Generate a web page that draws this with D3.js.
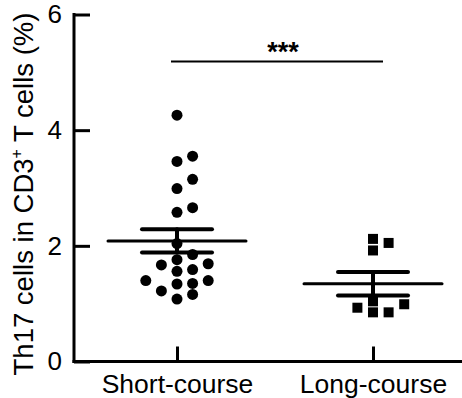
<!DOCTYPE html>
<html>
<head>
<meta charset="utf-8">
<script src="https://cdn.jsdelivr.net/npm/d3@7"></script>
<style>
  body { margin: 0; background: #fff; }
  svg { display: block; font-family: Arial, "Liberation Sans", sans-serif; }
</style>
</head>
<body>
<svg id="chart" width="462" height="398"></svg>
<script>
// data
const groups = ['Short-course', 'Long-course'];
const shortCourse = [4.26, 3.55, 3.46, 3.15, 2.99, 2.66, 2.58, 2.04, 1.85, 1.76, 1.69,
  1.67, 1.59, 1.56, 1.40, 1.40, 1.35, 1.34, 1.22, 1.16, 1.08];
const longCourse = [2.12, 2.05, 1.92, 1.04, 0.99, 0.93, 0.85, 0.85];
const yTicks = [0, 2, 4, 6];
const yLabel = 'Th17 cells in CD3';
const sigLabel = '***';

const width = 462, height = 398;
const margin = { top: 14.5, left: 74, bottom: 36.5 };

const svg = d3.select('#chart');

const x = d3.scalePoint()
  .domain(groups)
  .range([177, 373]);

const y = d3.scaleLinear()
  .domain([0, 6])
  .range([height - margin.bottom, margin.top]);

// axes
const yAxis = svg.append('g')
  .attr('transform', 'translate(' + margin.left + ',0)')
  .call(d3.axisRight(y).tickValues(yTicks).tickSize(16).tickFormat(d3.format('d')));
yAxis.select('.domain').remove();
yAxis.selectAll('.tick line').attr('stroke', '#000').attr('stroke-width', 3);
yAxis.selectAll('.tick text')
  .attr('x', -12)
  .attr('text-anchor', 'end')
  .attr('font-size', 26)
  .attr('fill', '#000');

svg.append('line')
  .attr('x1', margin.left).attr('x2', margin.left)
  .attr('y1', y(6) - 1.5).attr('y2', y(0) + 1.5)
  .attr('stroke', '#000').attr('stroke-width', 3);

const xAxis = svg.append('g')
  .attr('transform', 'translate(0,' + y(0) + ')')
  .call(d3.axisTop(x).tickSize(15));
xAxis.select('.domain').remove();
xAxis.selectAll('.tick line').attr('stroke', '#000').attr('stroke-width', 3);
xAxis.selectAll('.tick text')
  .attr('y', 31)
  .attr('font-size', 26.5)
  .attr('fill', '#000');

svg.append('line')
  .attr('x1', margin.left - 1.5).attr('x2', width)
  .attr('y1', y(0)).attr('y2', y(0))
  .attr('stroke', '#000').attr('stroke-width', 3);

// y label
const lab = svg.append('text')
  .attr('transform', 'translate(33,' + (y(3) + 6) + ') rotate(-90)')
  .attr('text-anchor', 'middle')
  .attr('font-size', 27.5)
  .attr('fill', '#000');
lab.append('tspan').text(yLabel);
lab.append('tspan').text('+').attr('font-size', 16).attr('dy', -11);
lab.append('tspan').text(' T cells (%)').attr('dy', 11);

// simple swarm: columns on a fixed step, avoid vertical overlap in a column
function swarm(values, step, minGap) {
  const sorted = values.slice().sort((a, b) => a - b);
  const lastY = {};
  const order = [0, 1, -1, 2, -2, 3, -3];
  return sorted.map(v => {
    const py = y(v);
    let col = order.find(c => lastY[c] === undefined || Math.abs(lastY[c] - py) >= minGap);
    lastY[col] = py;
    return { value: v, dx: col * step };
  });
}

function meanBars(values, cx) {
  const m = d3.mean(values);
  const sem = d3.deviation(values) / Math.sqrt(values.length);
  const g = svg.append('g')
    .attr('stroke', '#000')
    .attr('stroke-linecap', 'round');
  g.append('line')
    .attr('x1', cx - 69).attr('x2', cx + 69)
    .attr('y1', y(m)).attr('y2', y(m))
    .attr('stroke-width', 3);
  g.append('line')
    .attr('x1', cx).attr('x2', cx)
    .attr('y1', y(m + sem)).attr('y2', y(m - sem))
    .attr('stroke-width', 4);
  [m + sem, m - sem].forEach(v => {
    g.append('line')
      .attr('x1', cx - 35).attr('x2', cx + 35)
      .attr('y1', y(v)).attr('y2', y(v))
      .attr('stroke-width', 4);
  });
}

// Short-course dots
svg.selectAll('circle.short')
  .data(swarm(shortCourse, 15.6, 10.5))
  .enter()
  .append('circle')
  .attr('class', 'short')
  .attr('cx', d => x('Short-course') + d.dx)
  .attr('cy', d => y(d.value))
  .attr('r', 5.5)
  .attr('fill', '#000');

// Long-course squares
svg.selectAll('rect.long')
  .data(swarm(longCourse, 15.6, 10.5))
  .enter()
  .append('rect')
  .attr('class', 'long')
  .attr('x', d => x('Long-course') + d.dx - 5)
  .attr('y', d => y(d.value) - 5)
  .attr('width', 10)
  .attr('height', 10)
  .attr('fill', '#000');

meanBars(shortCourse, x('Short-course'));
meanBars(longCourse, x('Long-course'));

// significance line
svg.append('line')
  .attr('x1', x('Short-course') - 6).attr('x2', x('Long-course') + 10)
  .attr('y1', 61.5).attr('y2', 61.5)
  .attr('stroke', '#000').attr('stroke-width', 2);
svg.append('text')
  .attr('x', (x('Short-course') + x('Long-course')) / 2 + 8)
  .attr('y', 61)
  .attr('text-anchor', 'middle')
  .attr('font-size', 27)
  .attr('font-weight', 'bold')
  .attr('fill', '#000')
  .text(sigLabel);
</script>
</body>
</html>
